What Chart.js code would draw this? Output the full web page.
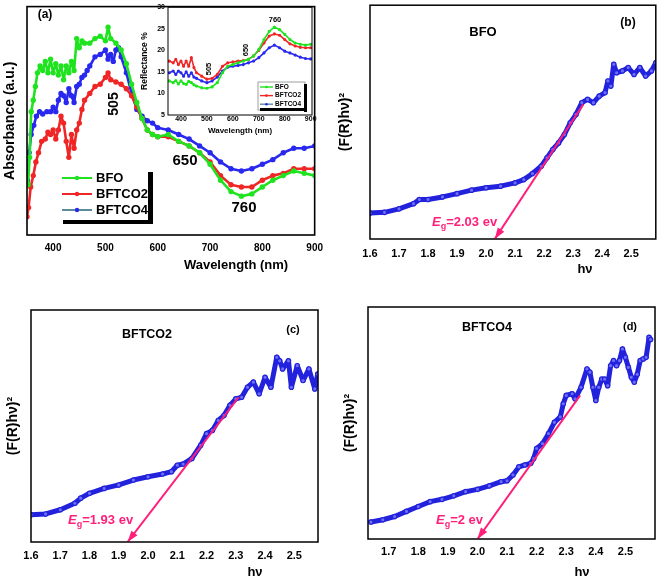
<!DOCTYPE html>
<html>
<head>
<meta charset="utf-8">
<title>Absorbance and band gap</title>
<script src="https://cdn.jsdelivr.net/npm/chart.js"></script>
<style>
  body { margin: 0; background: #fff; }
  #wrap { position: relative; width: 661px; height: 579px; }
  canvas { position: absolute; }
</style>
</head>
<body>
<div id="wrap">
  <canvas id="chartA" width="330" height="280" style="left:0;top:0"></canvas>
  <canvas id="chartInset" width="180" height="140" style="left:140px;top:0"></canvas>
  <canvas id="chartB" width="331" height="290" style="left:330px;top:0"></canvas>
  <canvas id="chartC" width="330" height="289" style="left:0;top:290px"></canvas>
  <canvas id="chartD" width="331" height="289" style="left:330px;top:290px"></canvas>
</div>
<script>
// ---- panel (a): absorbance (a.u.)
const wlBFO = [352,355,358,362,366,370,375,380,385,390,395,400,405,410,415,420,425,430,435,440,445,450,455,460,470,480,490,500,505,510,520,530,540,550,560,570,580,590,600,620,640,660,680,700,720,740,760,780,800,820,840,860,880,900];
const absBFO = [22,34,54,59,65,71,74,72,76,71,77,71,75,70,74,68,74,71,76,72,86,82,85,84,84,86,87,85,91,86,84,81,75,66,58,51,46,44,43,44,41,39,36,31,24,19,17,18,21,24,26,28,27,26];
const wlCO2 = [350,353,357,362,367,372,378,385,390,395,400,405,410,415,420,425,430,435,440,445,450,455,460,470,480,490,500,505,510,520,530,540,550,560,570,580,590,600,620,640,660,680,700,720,740,760,780,800,820,840,860,880,900];
const absCO2 = [8,12,21,26,32,36,41,42,45,44,46,42,46,52,49,41,34,44,38,46,49,55,59,62,65,66,69,71,68,67,66,64,61,56,51,46,44,43,43,41,39,36,32,26,22,21,21,24,26,27,29,29,29];
const wlCO4 = [351,354,358,363,368,374,380,388,395,400,405,410,415,420,425,430,435,440,445,450,455,460,465,470,480,490,500,505,510,515,520,525,530,540,550,560,570,580,590,600,620,640,660,680,700,720,740,760,780,800,820,840,860,880,900];
const absCO4 = [24,36,44,48,52,54,53,54,54,56,54,59,62,61,58,64,61,58,65,66,69,70,72,74,78,79,81,77,79,76,81,82,78,71,62,55,52,50,49,47,46,44,42,39,36,32,29,28,29,31,33,36,38,38,39];
const wlTicks = [400,500,600,700,800,900];

// ---- inset: reflectance %
const wlRefl = [355,370,380,390,400,410,420,430,440,450,460,480,500,520,540,560,580,600,620,640,660,680,700,720,740,760,780,800,820,840,860,880,900];
const reflBFO = [12.9,12.5,13.0,12.2,12.9,12.3,12.1,12.8,12.5,12.0,11.7,11.3,11.2,11.5,12.5,14.8,16.3,16.7,17.1,17.5,17.9,18.7,20.2,22.5,24.4,25.4,24.8,23.7,22.5,21.7,21.4,21.2,21.4];
const reflCO2 = [17.5,17.1,17.9,16.7,17.5,16.3,17.5,16.3,18.3,16.0,14.8,14.0,13.3,13.5,14.4,16.3,17.1,17.3,17.5,17.6,17.9,18.7,20.0,21.7,23.3,23.8,23.5,22.5,21.5,21.0,20.7,20.6,20.6];
const reflCO4 = [14.8,15.2,14.4,15.2,14.8,14.0,15.0,14.0,14.8,13.8,13.5,12.9,12.5,12.9,13.8,15.2,16.1,16.3,16.5,16.7,17.1,17.5,18.3,19.4,20.6,21.2,20.6,19.8,19.4,18.9,18.4,18.1,18.0];
const reflTicks = [5,10,15,20,25,30];

// ---- panels (b)-(d): (F(R)hv)^2 in arbitrary units vs hv
const hvB = [1.60,1.65,1.70,1.75,1.77,1.80,1.85,1.90,1.95,2.00,2.05,2.10,2.13,2.16,2.19,2.21,2.23,2.25,2.27,2.29,2.31,2.33,2.35,2.37,2.39,2.41,2.42,2.43,2.44,2.45,2.47,2.49,2.51,2.53,2.55,2.57,2.585];
const fB = [11.1,11.4,12.9,15.1,16.9,16.9,18,19.4,20.9,21.9,22.6,24,25.4,28,31.1,34.7,38.3,41.1,44.7,49.7,53.3,58.3,59.7,58.3,61.1,62.6,67.6,65.4,74.7,71.1,71.9,73.3,70.4,73.3,69.7,71.9,75.4];
const hvC = [1.60,1.65,1.70,1.75,1.77,1.80,1.85,1.90,1.95,2.00,2.05,2.08,2.10,2.12,2.15,2.18,2.20,2.22,2.24,2.26,2.28,2.30,2.32,2.34,2.36,2.38,2.40,2.42,2.44,2.45,2.46,2.48,2.49,2.51,2.53,2.55,2.57,2.58];
const fC = [11.7,12.1,13.9,16.7,18.9,21,23.1,24.6,26.7,28.1,29.3,30.3,33.1,33.6,36,41.7,46.7,48.1,52.4,54.6,58.9,61.7,62.4,66.7,68.9,63.9,71,66.7,79.6,78.1,74.6,78.1,66.7,76,69.6,74.6,66,72.4];
const hvD = [1.64,1.68,1.72,1.76,1.80,1.84,1.88,1.92,1.96,2.00,2.04,2.08,2.10,2.12,2.14,2.16,2.18,2.19,2.20,2.22,2.24,2.26,2.28,2.29,2.30,2.32,2.33,2.35,2.37,2.38,2.39,2.40,2.41,2.42,2.43,2.44,2.45,2.46,2.47,2.48,2.49,2.50,2.51,2.52,2.53,2.54,2.55,2.56,2.57,2.58,2.585];
const fD = [7.3,8.3,9.7,11.9,14,16.1,17.1,18.6,20.4,21.4,22.9,24.7,25.1,27.6,31.1,31.9,32.6,34.7,39,41.1,45.4,50.3,52.6,58.3,61.9,62.6,60.4,65.4,73.3,71.9,65.4,59.7,65.4,68.9,68.9,66.1,74.7,76.9,74.7,76.9,81.9,78.3,74,69.7,67.6,71,76.9,77.6,78.3,86.9,86];
const hvTicksBC = [1.6,1.7,1.8,1.9,2.0,2.1,2.2,2.3,2.4,2.5];
const hvTicksD = [1.7,1.8,1.9,2.0,2.1,2.2,2.3,2.4,2.5];

// tangent lines (start on the rising edge, end at Eg on the axis)
const egB = 2.03, egC = 1.93, egD = 2;
const fitB = [[2.335, 57.6], [egB, 0]];
const fitC = [[2.31, 62.4], [egC, 0]];
const fitD = [[2.347, 61.9], [egD, 0]];

const FONT = "'Liberation Sans', Arial, sans-serif";
const GREEN = '#1fe31f', RED = '#f02626', BLUE = '#2828ee', DOTS = '#2222dd', PINK = '#ff1f7a';

function pts(xs, ys) { return xs.map((x, i) => ({ x: x, y: ys[i] })); }
function bold(size) { return 'bold ' + size + 'px ' + FONT; }

// frame, arrow heads, labels, legend
const decor = {
  id: 'decor',
  afterDatasetsDraw(chart, args, o) {
    const ctx = chart.ctx, a = chart.chartArea;
    ctx.save();
    ctx.strokeStyle = '#000';
    ctx.lineWidth = o.frame || 1.5;
    ctx.strokeRect(a.left, a.top, a.right - a.left, a.bottom - a.top);

    chart.data.datasets.forEach((ds, i) => {
      if (!ds.arrow) return;
      const el = chart.getDatasetMeta(i).data;
      const p0 = el[el.length - 2], p1 = el[el.length - 1];
      const ang = Math.atan2(p1.y - p0.y, p1.x - p0.x);
      ctx.fillStyle = ds.borderColor;
      ctx.beginPath();
      ctx.moveTo(p1.x, p1.y);
      ctx.lineTo(p1.x - 12 * Math.cos(ang - 0.33), p1.y - 12 * Math.sin(ang - 0.33));
      ctx.lineTo(p1.x - 12 * Math.cos(ang + 0.33), p1.y - 12 * Math.sin(ang + 0.33));
      ctx.closePath();
      ctx.fill();
    });

    (o.texts || []).forEach(t => {
      ctx.save();
      ctx.font = t.font;
      ctx.fillStyle = t.color || '#000';
      ctx.textAlign = 'center';
      ctx.textBaseline = 'middle';
      ctx.translate(t.x, t.y);
      if (t.rot) ctx.rotate(t.rot);
      ctx.fillText(t.text, 0, 0);
      ctx.restore();
    });

    if (o.eg) {
      const e = o.eg;
      ctx.fillStyle = PINK;
      ctx.textAlign = 'left';
      ctx.textBaseline = 'middle';
      ctx.font = 'italic ' + bold(13);
      ctx.fillText('E', e.x, e.y);
      let x = e.x + ctx.measureText('E').width;
      ctx.font = bold(9);
      ctx.fillText('g', x, e.y + 5);
      x += ctx.measureText('g').width;
      ctx.font = bold(13);
      ctx.fillText('=' + e.value + ' ev', x, e.y);
    }

    if (o.legend) {
      const L = o.legend;
      if (L.box) {
        ctx.strokeStyle = '#888';
        ctx.lineWidth = 0.8;
        ctx.strokeRect(L.box[0], L.box[1], L.box[2], L.box[3]);
      }
      ctx.fillStyle = '#000';
      L.shadow.forEach(r => ctx.fillRect(r[0], r[1], r[2], r[3]));
      chart.data.datasets.forEach((ds, i) => {
        const y = L.y + i * L.dy;
        ctx.strokeStyle = ds.legendLine || ds.borderColor;
        ctx.lineWidth = L.lw;
        ctx.beginPath();
        ctx.moveTo(L.x, y);
        ctx.lineTo(L.x + L.len, y);
        ctx.stroke();
        ctx.fillStyle = ds.borderColor;
        ctx.beginPath();
        ctx.arc(L.x + L.len / 2, y, L.dot, 0, Math.PI * 2);
        ctx.fill();
        ctx.fillStyle = '#000';
        ctx.font = bold(L.font);
        ctx.textAlign = 'left';
        ctx.textBaseline = 'middle';
        ctx.fillText(ds.label, L.x + L.len + L.gap, y);
      });
    }
    ctx.restore();
  }
};

function xAxis(min, max, ticks, fmt, size, pad, height, title) {
  return {
    type: 'linear', min: min, max: max,
    grid: { display: false, drawTicks: false },
    border: { display: false },
    afterBuildTicks: s => { s.ticks = ticks.map(v => ({ value: v })); },
    ticks: { font: { family: FONT, size: size, weight: 'bold' }, color: '#000', padding: pad,
             maxRotation: 0, autoSkip: false, callback: v => fmt(v) },
    title: title || { display: false },
    afterFit: s => { s.height = height; }
  };
}

function yAxis(min, max, text, size, pad, width, ticks) {
  return {
    min: min, max: max,
    grid: { display: false, drawTicks: false },
    border: { display: false },
    ticks: ticks || { display: false },
    title: { display: true, text: text, color: '#000',
             font: { family: FONT, size: size, weight: 'bold' }, padding: { top: pad, bottom: 0 } },
    afterFit: s => { s.width = width; }
  };
}

function baseOptions(pad, scales, decorOpts) {
  return {
    responsive: false, animation: false, events: [],
    layout: { padding: pad },
    elements: { line: { borderJoinStyle: 'round', borderCapStyle: 'round' } },
    plugins: { legend: { display: false }, tooltip: { enabled: false }, decor: decorOpts },
    scales: scales
  };
}

// ---- (a)
new Chart(document.getElementById('chartA'), {
  type: 'line',
  data: { datasets: [
    { label: 'BFO', data: pts(wlBFO, absBFO), borderColor: GREEN, backgroundColor: GREEN, borderWidth: 2.6, pointRadius: 1.4 },
    { label: 'BFTCO2', data: pts(wlCO2, absCO2), borderColor: RED, backgroundColor: RED, borderWidth: 2.6, pointRadius: 1.4 },
    { label: 'BFTCO4', data: pts(wlCO4, absCO4), borderColor: BLUE, backgroundColor: BLUE, borderWidth: 2.6, pointRadius: 1.4, legendLine: '#5b8c9c' }
  ] },
  options: baseOptions({ left: 0, top: 3, right: 13, bottom: 0 }, {
    x: xAxis(350, 900, wlTicks, v => String(v), 10, 7, 45),
    y: yAxis(0, 100, 'Absorbance (a.u.)', 14, 2, 27)
  }, {
    frame: 1.6,
    texts: [
      { text: '(a)', x: 45, y: 15, font: bold(12) },
      { text: '505', x: 114, y: 104, rot: -Math.PI / 2, font: bold(14) },
      { text: '650', x: 185, y: 161, font: bold(15) },
      { text: '760', x: 244, y: 208, font: bold(15) },
      { text: 'Wavelength (nm)', x: 236, y: 265, font: bold(13) }
    ],
    legend: { x: 62, y: 178, dy: 16, len: 30, gap: 4, lw: 2, dot: 2.2, font: 13,
              shadow: [[148, 172, 5, 52], [63, 220, 90, 4]] }
  }),
  plugins: [decor]
});

// ---- inset
new Chart(document.getElementById('chartInset'), {
  type: 'line',
  data: { datasets: [
    { label: 'BFO', data: pts(wlRefl, reflBFO), borderColor: GREEN, backgroundColor: GREEN, borderWidth: 1.6, pointRadius: 0.8 },
    { label: 'BFTCO2', data: pts(wlRefl, reflCO2), borderColor: RED, backgroundColor: RED, borderWidth: 1.6, pointRadius: 0.8 },
    { label: 'BFTCO4', data: pts(wlRefl, reflCO4), borderColor: BLUE, backgroundColor: BLUE, borderWidth: 1.6, pointRadius: 0.8, legendLine: '#5b8c9c' }
  ] },
  options: baseOptions({ left: 0, top: 6, right: 8, bottom: 0 }, {
    x: xAxis(350, 905, wlTicks, v => String(v), 7, 0, 25,
      { display: true, text: 'Wavelength (nm)', color: '#000', font: { family: FONT, size: 8, weight: 'bold' }, padding: { top: 0, bottom: 4 } }),
    y: Object.assign(yAxis(5, 30, 'Reflectance %', 8.5, 0, 28,
      { font: { family: FONT, size: 7, weight: 'bold' }, color: '#000', padding: 3 }),
      { afterBuildTicks: s => { s.ticks = reflTicks.map(v => ({ value: v })); } })
  }, {
    frame: 1,
    texts: [
      { text: '505', x: 68.5, y: 69, rot: -Math.PI / 2, font: bold(7.5) },
      { text: '650', x: 106, y: 50, rot: -Math.PI / 2, font: bold(7.5) },
      { text: '760', x: 135, y: 20, font: bold(7.5) }
    ],
    legend: { x: 120, y: 87, dy: 8.6, len: 13, gap: 2, lw: 1.4, dot: 1.3, font: 6.5,
              box: [118, 82, 47, 28], shadow: [[164, 84, 3, 28], [120, 108, 47, 3]] }
  }),
  plugins: [decor]
});

// ---- (b), (c), (d)
function tauc(id, hv, f, fit, hvMin, hvMax, ticks, pad, yw, xh, tickPad, yPad, decorOpts) {
  return new Chart(document.getElementById(id), {
    type: 'line',
    data: { datasets: [
      { label: 'data', data: pts(hv, f), order: 1, borderColor: DOTS, backgroundColor: '#6f6ff5',
        borderWidth: 5, pointRadius: 2.2, pointBorderWidth: 1.2, pointBorderColor: DOTS },
      { label: 'fit', data: fit.map(p => ({ x: p[0], y: p[1] })), order: 0, arrow: true,
        borderColor: PINK, borderWidth: 2, pointRadius: 0, borderCapStyle: 'butt' }
    ] },
    options: baseOptions(pad, {
      x: xAxis(hvMin, hvMax, ticks, v => v.toFixed(1), 11, tickPad, xh),
      y: yAxis(0, 100, '(F(R)h\u03bd)\u00b2', 14, yPad, yw)
    }, decorOpts),
    plugins: [decor]
  });
}

tauc('chartB', hvB, fB, fitB, 1.6, 2.585, hvTicksBC, { left: 0, top: 5, right: 3, bottom: 0 }, 40, 51, 8, 7, {
  texts: [
    { text: 'BFO', x: 153, y: 32, font: bold(13) },
    { text: '(b)', x: 298, y: 23, font: bold(12) },
    { text: 'h\u03bd', x: 255, y: 269, font: bold(13) }
  ],
  eg: { x: 102, y: 222, value: egB }
});

tauc('chartC', hvC, fC, fitC, 1.6, 2.581, hvTicksBC, { left: 0, top: 20, right: 12, bottom: 0 }, 31, 37, 7, 5, {
  texts: [
    { text: 'BFTCO2', x: 147, y: 45, font: bold(12.5) },
    { text: '(c)', x: 293, y: 40, font: bold(11) },
    { text: 'h\u03bd', x: 255, y: 282, font: bold(13) }
  ],
  eg: { x: 68, y: 230, value: egC }
});

tauc('chartD', hvD, fD, fitD, 1.63, 2.6, hvTicksD, { left: 0, top: 17, right: 6, bottom: 0 }, 38, 40, 6, 12, {
  texts: [
    { text: 'BFTCO4', x: 157, y: 38, font: bold(12.5) },
    { text: '(d)', x: 300, y: 37, font: bold(11) },
    { text: 'h\u03bd', x: 252, y: 282, font: bold(13) }
  ],
  eg: { x: 106, y: 230, value: egD }
});
</script>
</body>
</html>
